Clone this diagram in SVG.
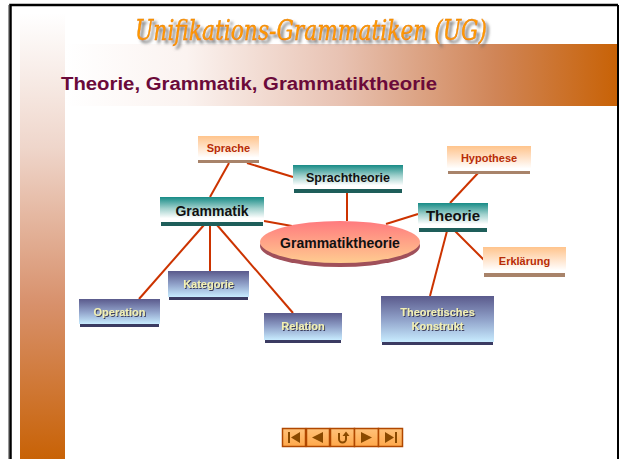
<svg xmlns="http://www.w3.org/2000/svg" width="619" height="459" viewBox="0 0 619 459">
<defs>
<linearGradient id="hband" x1="0" y1="0" x2="1" y2="0">
<stop offset="0" stop-color="#ffffff"/>
<stop offset="0.22" stop-color="#fbf3f0"/>
<stop offset="0.5" stop-color="#e8c2b2"/>
<stop offset="0.78" stop-color="#d08557"/>
<stop offset="1" stop-color="#c86206"/>
</linearGradient>
<linearGradient id="vband" x1="0" y1="0" x2="0" y2="1">
<stop offset="0" stop-color="#ffffff"/>
<stop offset="0.3" stop-color="#efd6cb"/>
<stop offset="0.65" stop-color="#d8916c"/>
<stop offset="1" stop-color="#c86206"/>
</linearGradient>
<linearGradient id="teal" x1="0" y1="0" x2="0" y2="1">
<stop offset="0" stop-color="#178b86"/>
<stop offset="0.45" stop-color="#9fd0cc"/>
<stop offset="0.85" stop-color="#ffffff"/>
</linearGradient>
<linearGradient id="peach" x1="0" y1="0" x2="0" y2="1">
<stop offset="0" stop-color="#ffc48c"/>
<stop offset="0.5" stop-color="#ffe4cc"/>
<stop offset="0.9" stop-color="#ffffff"/>
</linearGradient>
<linearGradient id="slate" x1="0" y1="0" x2="0" y2="1">
<stop offset="0" stop-color="#5a5a8c"/>
<stop offset="0.5" stop-color="#8fa0c8"/>
<stop offset="1" stop-color="#c8ecff"/>
</linearGradient>
<linearGradient id="ell" x1="0" y1="0" x2="0" y2="1">
<stop offset="0" stop-color="#ff7a7e"/>
<stop offset="1" stop-color="#ffcc90"/>
</linearGradient>
<linearGradient id="btn" x1="0" y1="0" x2="0" y2="1">
<stop offset="0" stop-color="#ffc27a"/>
<stop offset="1" stop-color="#ffa84a"/>
</linearGradient>
<filter id="ttl" x="-5%" y="-40%" width="112%" height="180%">
<feDropShadow dx="3" dy="3" stdDeviation="1.6" flood-color="#6a6a6a" flood-opacity="0.9"/>
</filter>
<filter id="tsh" x="-10%" y="-30%" width="120%" height="160%">
<feDropShadow dx="1" dy="1" stdDeviation="0.4" flood-color="#303050" flood-opacity="0.9"/>
</filter>
</defs>
<style>
.lbl{font-family:"Liberation Sans",Arial,sans-serif;font-weight:bold;text-anchor:middle}
.dk{fill:#111111}
.pe{fill:#b82c06}
.sl{fill:#f2f0b4}
.tealbar{fill:#1e5e5a}
.peachbar{fill:#a8836a}
.slatebar{fill:#3b3b62}
.conn line{stroke:#cc3300;stroke-width:2}
.nb{fill:url(#btn);stroke:#b04800;stroke-width:1.5}
.ic{fill:#8a4a00}
</style>
<rect width="619" height="459" fill="#ffffff"/>
<rect x="20" y="13" width="45" height="446" fill="url(#vband)"/>
<rect x="65" y="44" width="552" height="62" fill="url(#hband)"/>
<line x1="8.5" y1="5" x2="8.5" y2="459" stroke="#999999" stroke-width="1"/>
<path d="M10.5 459 V5 H618" fill="none" stroke="#000000" stroke-width="2.5"/>
<line x1="618" y1="5" x2="618" y2="459" stroke="#000000" stroke-width="2"/>
<g id="title">
<text x="311" y="40" text-anchor="middle" font-family="'DejaVu Serif','Liberation Serif',serif" font-style="italic" font-size="27" textLength="352" lengthAdjust="spacingAndGlyphs" fill="#ff9a00" stroke="#e07800" stroke-width="0.4" filter="url(#ttl)">Unifikations-Grammatiken (UG)</text>
</g>
<text x="61" y="90" font-family="'Liberation Sans',Arial,sans-serif" font-weight="bold" font-size="18" fill="#6b0a3a" textLength="376" lengthAdjust="spacingAndGlyphs">Theorie, Grammatik, Grammatiktheorie</text>
<g class="conn">
<line x1="229" y1="163" x2="210" y2="197"/>
<line x1="247" y1="163" x2="293" y2="177"/>
<line x1="347" y1="192" x2="347" y2="221"/>
<line x1="264" y1="221" x2="292" y2="226"/>
<line x1="204" y1="225" x2="139" y2="299"/>
<line x1="210" y1="225" x2="210" y2="271"/>
<line x1="217" y1="225" x2="293" y2="313"/>
<line x1="386" y1="224" x2="418" y2="214"/>
<line x1="450" y1="203" x2="479" y2="172"/>
<line x1="455" y1="231" x2="484" y2="260"/>
<line x1="447" y1="231" x2="430" y2="296"/>
</g>
<g id="sprache">
<rect x="198" y="136" width="61" height="24" fill="url(#peach)"/>
<rect x="198" y="160" width="61" height="3" class="peachbar"/>
<text x="228.5" y="152" font-size="11" class="lbl pe">Sprache</text>
</g>
<g id="sprachtheorie">
<rect x="293" y="165" width="110" height="24" fill="url(#teal)"/>
<rect x="294" y="189" width="108" height="4" class="tealbar"/>
<text x="348" y="182" font-size="12.5" class="lbl dk">Sprachtheorie</text>
</g>
<g id="grammatik">
<rect x="160" y="197" width="104" height="25" fill="url(#teal)"/>
<rect x="161" y="222" width="102" height="4" class="tealbar"/>
<text x="212" y="216" font-size="14" class="lbl dk">Grammatik</text>
</g>
<g id="grammatiktheorie">
<ellipse cx="340" cy="246" rx="80" ry="21" fill="#a0505a"/>
<ellipse cx="340" cy="242" rx="80" ry="21" fill="url(#ell)"/>
<text x="340" y="248" font-size="14" class="lbl dk">Grammatiktheorie</text>
</g>
<g id="theorie">
<rect x="418" y="203" width="70" height="25" fill="url(#teal)"/>
<rect x="419" y="228" width="68" height="4" class="tealbar"/>
<text x="453" y="221" font-size="15" class="lbl dk">Theorie</text>
</g>
<g id="hypothese">
<rect x="447" y="146" width="84" height="25" fill="url(#peach)"/>
<rect x="448" y="171" width="82" height="3" class="peachbar"/>
<text x="489" y="162" font-size="11" class="lbl pe">Hypothese</text>
</g>
<g id="erklaerung">
<rect x="483" y="247" width="83" height="26" fill="url(#peach)"/>
<rect x="484" y="273" width="81" height="4" class="peachbar"/>
<text x="524.5" y="265" font-size="11" class="lbl pe">Erklärung</text>
</g>
<g id="operation">
<rect x="79" y="299" width="81" height="25" fill="url(#slate)"/>
<rect x="80" y="324" width="79" height="3" class="slatebar"/>
<text x="119.5" y="316" font-size="11" class="lbl sl" filter="url(#tsh)">Operation</text>
</g>
<g id="kategorie">
<rect x="168" y="271" width="81" height="26" fill="url(#slate)"/>
<rect x="169" y="297" width="79" height="3" class="slatebar"/>
<text x="208.5" y="288" font-size="11" class="lbl sl" filter="url(#tsh)">Kategorie</text>
</g>
<g id="relation">
<rect x="264" y="313" width="78" height="27" fill="url(#slate)"/>
<rect x="265" y="340" width="76" height="3" class="slatebar"/>
<text x="303" y="330" font-size="11" class="lbl sl" filter="url(#tsh)">Relation</text>
</g>
<g id="konstrukt">
<rect x="381" y="296" width="113" height="46" fill="url(#slate)"/>
<rect x="382" y="342" width="111" height="3" class="slatebar"/>
<text x="437.5" y="316" font-size="11" class="lbl sl" filter="url(#tsh)">Theoretisches</text>
<text x="437.5" y="330" font-size="11" class="lbl sl" filter="url(#tsh)">Konstrukt</text>
</g>
<g id="nav">
<rect x="282.5" y="428.5" width="23" height="18" class="nb"/>
<rect x="306.5" y="428.5" width="23" height="18" class="nb"/>
<rect x="330.5" y="428.5" width="24" height="18" class="nb"/>
<rect x="354.5" y="428.5" width="24" height="18" class="nb"/>
<rect x="378.5" y="428.5" width="24" height="18" class="nb"/>
<rect x="288" y="432" width="2" height="11" class="ic"/>
<path d="M300 432 V443 L291 437.5 Z" class="ic"/>
<path d="M323 432 V443 L312 437.5 Z" class="ic"/>
<path d="M338 433 V439 A4.5 4.5 0 0 0 347 439 V436 H349.5 L346 431.5 L342.5 436 H345 V439 A2.5 2.5 0 0 1 340 439 V433 Z" class="ic"/>
<path d="M361 432 V443 L372 437.5 Z" class="ic"/>
<path d="M385 432 V443 L394 437.5 Z" class="ic"/>
<rect x="395" y="432" width="2" height="11" class="ic"/>
</g>
</svg>
